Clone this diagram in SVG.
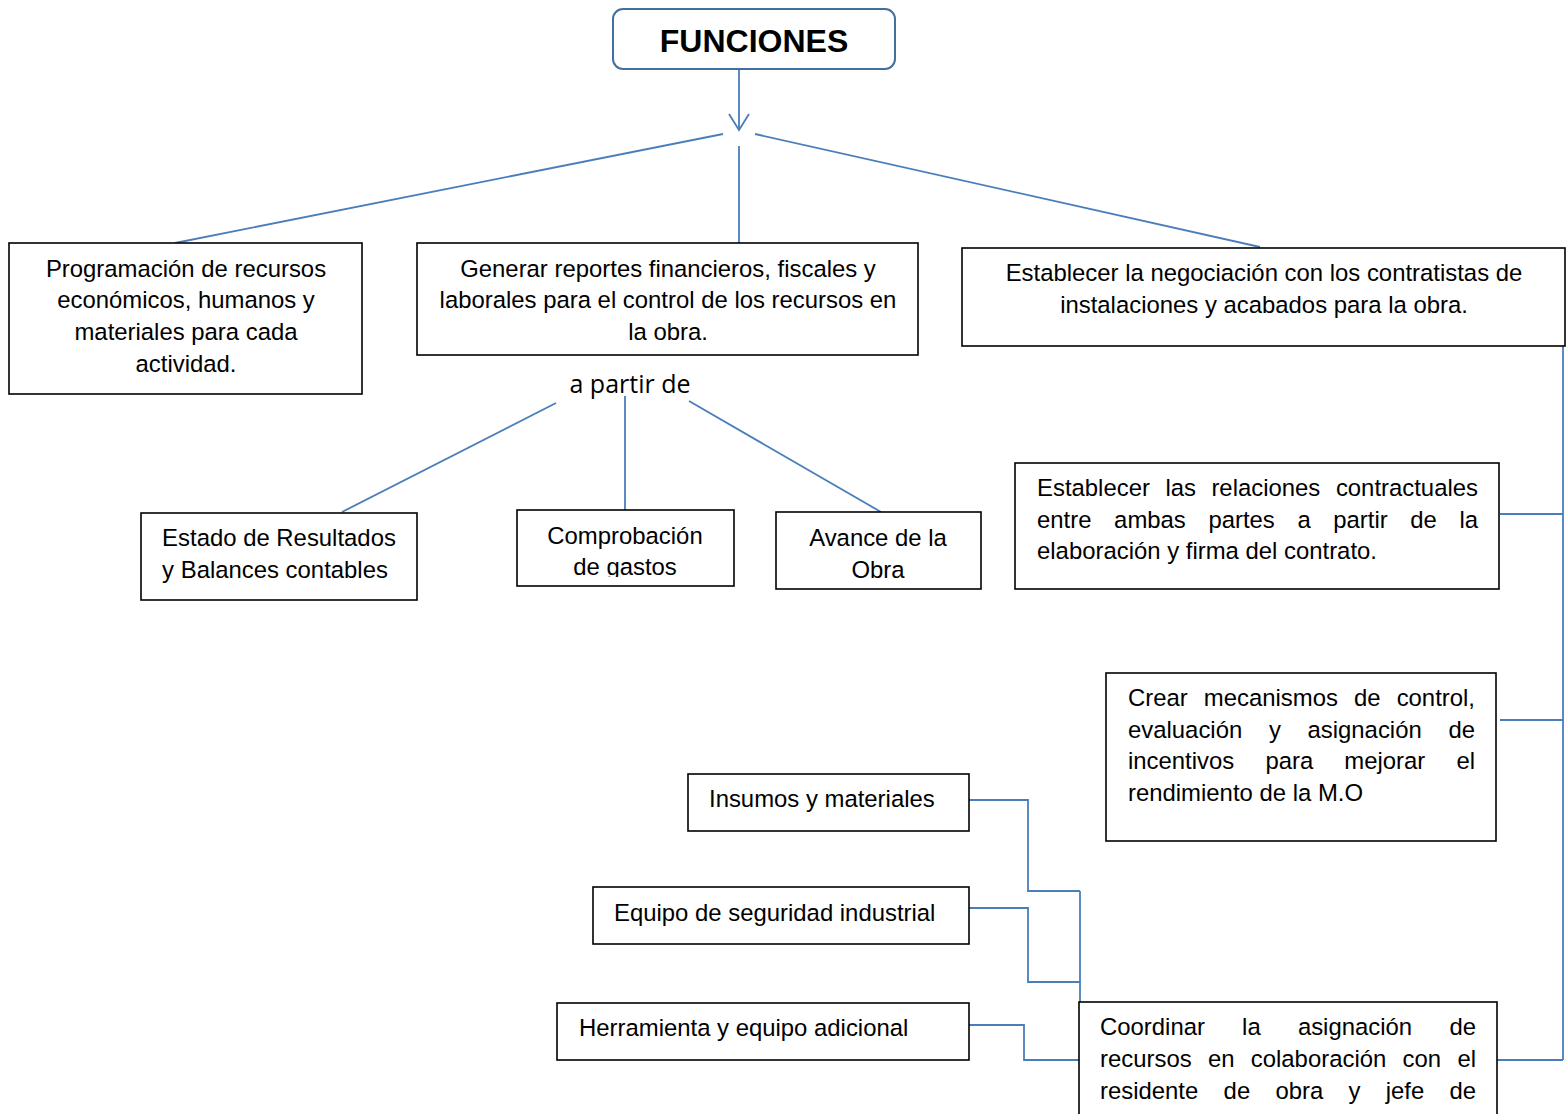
<svg xmlns="http://www.w3.org/2000/svg" width="1566" height="1114" viewBox="0 0 1566 1114">
<style>
.box{fill:#fff;stroke:#000;stroke-width:1.6}
.t{font-family:"Liberation Sans",Arial,sans-serif;font-size:23.9px;fill:#000}
.c{text-anchor:middle}
.e{text-anchor:end}
.ln{fill:none;stroke:#4a7ebb;stroke-width:1.8}
</style>
<defs>
<clipPath id="clipComp"><rect x="518" y="511" width="215" height="66"/></clipPath>
</defs>
<rect width="1566" height="1114" fill="#fff"/>
<g id="connectors">
<line class="ln" x1="739" y1="69" x2="739" y2="130"/>
<polyline class="ln" points="729,114 739,130 749,114"/>
<line class="ln" x1="723" y1="134" x2="175" y2="243"/>
<line class="ln" x1="739" y1="146" x2="739" y2="243"/>
<line class="ln" x1="755" y1="134" x2="1260" y2="247"/>
<line class="ln" x1="556" y1="403" x2="342" y2="512"/>
<line class="ln" x1="625" y1="396" x2="625" y2="510"/>
<line class="ln" x1="689" y1="401" x2="881" y2="512"/>
<line class="ln" x1="1563" y1="346" x2="1563" y2="1060"/>
<line class="ln" x1="1500" y1="514" x2="1563" y2="514"/>
<line class="ln" x1="1500" y1="720" x2="1563" y2="720"/>
<line class="ln" x1="1497" y1="1060" x2="1563" y2="1060"/>
<polyline class="ln" points="969,800 1028,800 1028,891 1080,891"/>
<polyline class="ln" points="969,908 1028,908 1028,982 1080,982"/>
<polyline class="ln" points="969,1025 1024,1025 1024,1060 1080,1060"/>
<line class="ln" x1="1080" y1="891" x2="1080" y2="1060"/>
</g>
<g id="funciones">
<rect x="613" y="9" width="282" height="60" rx="10" fill="#fff" stroke="#41719c" stroke-width="2"/>
<text x="754" y="52" class="t c" style="font-size:32px;font-weight:bold">FUNCIONES</text>
</g>
<g id="programacion">
<rect class="box" x="9" y="243" width="353" height="151"/>
<text class="t c" x="186" y="277">Programación de recursos</text>
<text class="t c" x="186" y="308">económicos, humanos y</text>
<text class="t c" x="186" y="340">materiales para cada</text>
<text class="t c" x="186" y="372">actividad.</text>
</g>
<g id="generar">
<rect class="box" x="417" y="243" width="501" height="112"/>
<text class="t c" x="668" y="277">Generar reportes financieros, fiscales y</text>
<text class="t c" x="668" y="308">laborales para el control de los recursos en</text>
<text class="t c" x="668" y="340">la obra.</text>
</g>
<g id="negociacion">
<rect class="box" x="962" y="248" width="603" height="98"/>
<text class="t c" x="1264" y="281">Establecer la negociación con los contratistas de</text>
<text class="t c" x="1264" y="313">instalaciones y acabados para la obra.</text>
</g>
<g id="apartir">
<text x="630" y="393" style="font-family:'Open Sans','Noto Sans',sans-serif;font-size:25px;fill:#000" text-anchor="middle">a partir de</text>
</g>
<g id="estado">
<rect class="box" x="141" y="513" width="276" height="87"/>
<text class="t c" x="279" y="546">Estado de Resultados</text>
<text class="t c" x="275" y="578">y Balances contables</text>
</g>
<g id="comprobacion">
<rect class="box" x="517" y="510" width="217" height="76"/>
<text class="t c" x="625" y="544">Comprobación</text>
<text class="t c" x="625" y="575" clip-path="url(#clipComp)">de gastos</text>
</g>
<g id="avance">
<rect class="box" x="776" y="512" width="205" height="77"/>
<text class="t c" x="878" y="546">Avance de la</text>
<text class="t c" x="878" y="578">Obra</text>
</g>
<g id="relaciones">
<rect class="box" x="1015" y="463" width="484" height="126"/>
<text class="t" y="496"><tspan x="1037">Establecer</tspan><tspan x="1165.4">las</tspan><tspan x="1211.4">relaciones</tspan></text>
<text class="t e" x="1478" y="496">contractuales</text>
<text class="t" y="528"><tspan x="1037">entre</tspan><tspan x="1114.1">ambas</tspan><tspan x="1208.4">partes</tspan><tspan x="1297.4">a</tspan><tspan x="1333.3">partir</tspan><tspan x="1410.3">de</tspan></text>
<text class="t e" x="1478" y="528">la</text>
<text class="t" x="1037" y="559">elaboración y firma del contrato.</text>
</g>
<g id="mecanismos">
<rect class="box" x="1106" y="673" width="390" height="168"/>
<text class="t" y="706"><tspan x="1128">Crear</tspan><tspan x="1203.8">mecanismos</tspan><tspan x="1354">de</tspan></text>
<text class="t e" x="1475" y="706">control,</text>
<text class="t" y="738"><tspan x="1128">evaluación</tspan><tspan x="1268.9">y</tspan><tspan x="1307.5">asignación</tspan></text>
<text class="t e" x="1475" y="738">de</text>
<text class="t" y="769"><tspan x="1128">incentivos</tspan><tspan x="1265.4">para</tspan><tspan x="1344.3">mejorar</tspan></text>
<text class="t e" x="1475" y="769">el</text>
<text class="t" x="1128" y="801">rendimiento de la M.O</text>
</g>
<g id="insumos">
<rect class="box" x="688" y="774" width="281" height="57"/>
<text class="t" x="709" y="807">Insumos y materiales</text>
</g>
<g id="equipo">
<rect class="box" x="593" y="887" width="376" height="57"/>
<text class="t" x="614" y="921">Equipo de seguridad industrial</text>
</g>
<g id="herramienta">
<rect class="box" x="557" y="1003" width="412" height="57"/>
<text class="t" x="579" y="1036">Herramienta y equipo adicional</text>
</g>
<g id="coordinar">
<rect class="box" x="1079" y="1002" width="418" height="130"/>
<text class="t" y="1035"><tspan x="1100">Coordinar</tspan><tspan x="1242.1">la</tspan><tspan x="1297.9">asignación</tspan></text>
<text class="t e" x="1476" y="1035">de</text>
<text class="t" y="1067"><tspan x="1100">recursos</tspan><tspan x="1207.9">en</tspan><tspan x="1250.8">colaboración</tspan><tspan x="1402.6">con</tspan></text>
<text class="t e" x="1476" y="1067">el</text>
<text class="t" y="1099"><tspan x="1100">residente</tspan><tspan x="1223.6">de</tspan><tspan x="1275.4">obra</tspan><tspan x="1348.5">y</tspan><tspan x="1385.7">jefe</tspan></text>
<text class="t e" x="1476" y="1099">de</text>
</g>
</svg>
